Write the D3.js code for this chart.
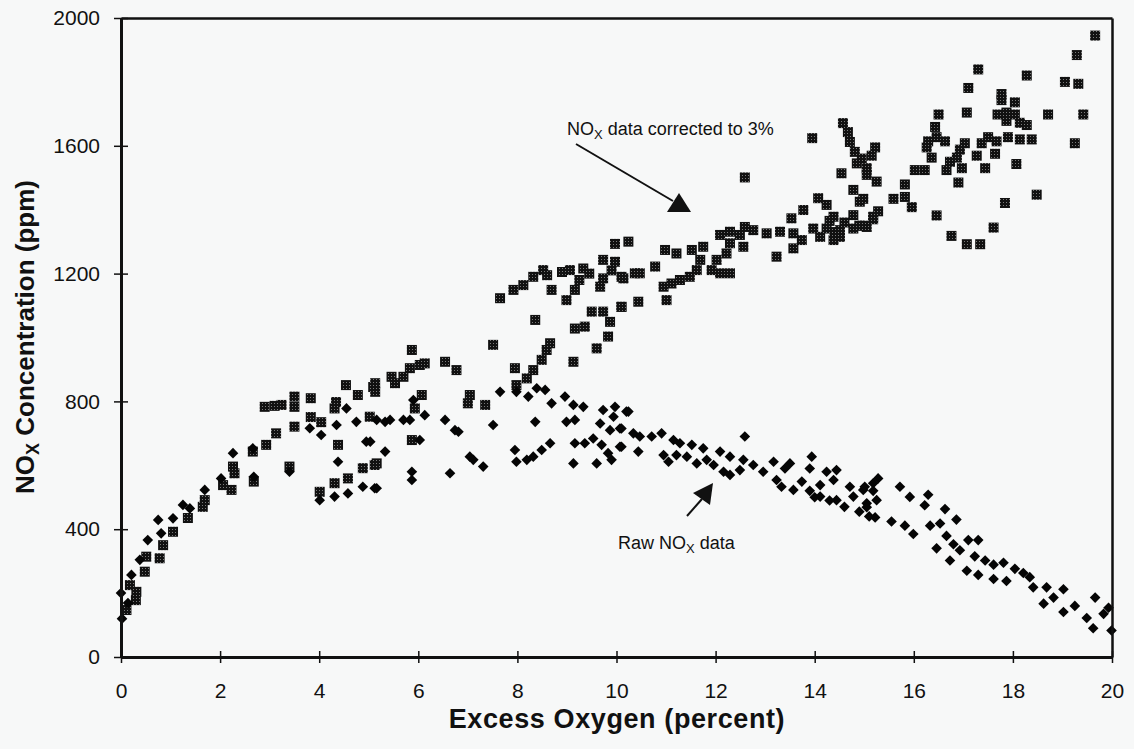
<!DOCTYPE html>
<html><head><meta charset="utf-8">
<script src="https://cdn.jsdelivr.net/npm/d3@7"></script>
<style>
html,body{margin:0;padding:0;background:#f7f8f8;}
svg{display:block;font-family:"Liberation Sans",Arial,Helvetica,sans-serif;}
</style></head>
<body>
<svg id="chart" width="1134" height="749"></svg>
<script>
// ---- data (Excess O2 %, NOx ppm) ----
const xTicks = [0,2,4,6,8,10,12,14,16,18,20];
const yTicks = [0,400,800,1200,1600,2000];

const correctedNOx = [
 [0.11,147],[0.18,225],[0.3,178],[0.31,204],[0.48,267],[0.51,314],[0.78,309],[0.85,350],[1.05,392],[1.35,435],[1.65,470],[1.69,491],
 [2.06,538],[2.23,523],[2.26,596],[2.29,575],[2.66,643],[2.68,549],[2.93,664],[2.9,783],[3.1,786],[3.24,789],[3.13,700],[3.4,596],
 [3.5,815],[3.5,783],[3.5,721],[3.83,810],[3.83,751],[4.04,735],[4.31,778],[4.34,798],[4.54,851],[4.78,820],[5.09,845],[4.01,517],
 [4.31,544],[4.58,559],[4.38,664],[4.88,591],[5.12,601],[5.02,752],
 [9.97,1293],[9.73,1243],[9.97,1237],[9.33,1216],[9.06,1211],[8.52,1211],[8.32,1190],[8.12,1164],[7.92,1149],[7.65,1123],[8.69,1149],
 [8.99,1117],[9.16,1149],[9.67,1159],[9.73,1185],[10.14,1185],[10.1,1096],[9.5,1081],[9.73,1081],[9.87,1049],[9.83,1003],[9.36,1034],
 [9.16,1028],[9.6,966],[8.36,1055],[7.51,977],[8.66,982],[8.59,961],[8.49,930],[8.32,898],[8.19,872],[7.95,904],[7.98,851],[9.13,924],
 [5.87,961],[6.03,914],[6.13,919],[5.83,904],[5.7,877],[5.46,877],[5.53,857],[5.13,857],[5.13,830],[6.54,924],[6.77,898],[7.04,820],
 [7.0,794],[7.35,789],[6.07,820],[5.93,778],[5.87,679],[5.16,606],[8.6,1195],[9.25,1180],[9.45,1200],[9.9,1210],[8.9,1205],
 [12.59,1501],[14.54,1514],[15.05,1509],[14.78,1462],[14.91,1425],[14.07,1436],[14.24,1415],[13.77,1399],[13.53,1373],[14.38,1378],
 [14.78,1383],[15.18,1378],[13.97,1341],[14.24,1341],[14.51,1336],[14.78,1341],[15.05,1346],[14.11,1315],[14.38,1305],[14.51,1315],
 [13.3,1331],[13.57,1326],[13.74,1305],[13.57,1279],[13.23,1253],[13.03,1326],[12.76,1336],[12.59,1346],[12.49,1321],[12.29,1331],
 [12.09,1321],[12.29,1295],[12.56,1284],[12.22,1263],[12.02,1243],[11.75,1284],[11.52,1274],[11.69,1243],[12.09,1201],[12.29,1201],
 [11.92,1211],[11.62,1211],[11.48,1190],[11.28,1180],[11.11,1169],[11.21,1263],[10.98,1274],[10.78,1222],[10.95,1159],[11.01,1117],
 [10.37,1201],[10.47,1201],[10.1,1190],[10.24,1300],[10.44,1112],[10.1,1096],[15.25,1488],
 [13.95,1624],[14.57,1671],[14.67,1643],[14.71,1612],[14.81,1581],[14.85,1545],[14.95,1560],[14.4,1330],[14.6,1360],[14.9,1350],[14.3,1365],
 [19.66,1945],[19.29,1884],[17.3,1839],[17.1,1781],[18.28,1820],[19.05,1800],[19.32,1794],[17.77,1762],[17.77,1743],[18.04,1736],
 [16.5,1698],[17.07,1704],[18.71,1698],[19.42,1698],[17.87,1704],[18.04,1698],[18.14,1672],[18.28,1665],[16.43,1659],[17.69,1698],
 [17.87,1678],[16.46,1627],[16.63,1614],[16.29,1614],[17.9,1627],[18.14,1620],[18.38,1620],[19.25,1608],[17.5,1627],[17.37,1608],
 [17.67,1614],[17.64,1575],[17.27,1569],[17.03,1608],[16.93,1588],[16.87,1563],[16.73,1550],[16.97,1530],[16.9,1485],[16.66,1524],
 [16.26,1595],[16.36,1563],[17.44,1530],[18.07,1543],[16.02,1524],[16.22,1524],[15.82,1479],[15.82,1440],[15.59,1434],[15.96,1408],
 [16.46,1382],[16.76,1318],[17.07,1292],[17.34,1292],[17.61,1344],[17.84,1421],[18.48,1447],[15.22,1595],[15.15,1569],[15.05,1530],
 [14.98,1434],[15.28,1395],[15.18,1370],[14.98,1350]
];

const rawNOx = [
 [0.0,200],[0.02,120],[0.14,169],[0.21,257],[0.38,304],[0.54,366],[0.75,429],[0.81,387],[1.05,434],[1.25,476],[1.39,465],[1.69,523],
 [2.02,559],[2.26,638],[2.66,653],[2.68,564],[3.4,580],[3.81,716],[4.04,695],[4.01,491],[4.31,502],[4.58,512],[4.88,533],[5.12,528],
 [4.38,611],[4.35,726],[4.55,778],[4.75,736],[4.95,674],
 [7.65,830],[7.98,830],[8.22,815],[8.39,841],[8.56,836],[8.69,794],[8.96,815],[9.13,789],[9.33,783],[8.36,736],[7.51,726],[8.99,736],
 [9.16,742],[9.73,773],[9.97,783],[10.2,768],[9.94,752],[9.67,731],[9.87,710],[10.07,715],[9.16,669],[9.36,669],[9.53,684],[9.7,664],
 [9.83,638],[9.9,617],[10.07,658],[9.6,606],[9.13,606],[7.95,648],[7.98,611],[8.19,617],[8.32,627],[8.49,648],[8.66,669],[7.04,627],
 [7.11,617],[7.31,596],[6.64,575],[6.54,742],[6.74,710],[6.81,705],[6.13,757],[5.9,804],[5.83,742],[5.7,742],[5.43,742],[5.33,736],
 [5.16,742],[6.03,679],[5.87,580],[5.87,554],[5.33,643],[5.16,528],[5.03,674],
 [10.24,768],[10.1,715],[10.34,700],[10.47,690],[10.1,658],[10.44,643],[10.71,690],[10.91,700],[11.15,679],[11.28,669],[10.95,632],
 [11.05,611],[11.21,632],[11.52,664],[11.75,653],[11.42,627],[11.62,606],[11.82,617],[12.09,643],[12.29,627],[11.96,601],[12.16,580],
 [12.29,570],[12.56,617],[12.76,601],[12.59,690],[12.49,585],[12.96,580],[13.17,611],[13.23,554],[13.4,590],[13.5,606],[13.33,533],
 [13.57,523],[13.74,549],[13.94,627],[13.9,590],[14.11,538],[14.24,580],[14.44,585],[14.38,554],[14.11,502],[14.44,491],[14.71,533],
 [14.78,502],[14.98,523],[15.18,544],[15.25,491],[15.05,481],[14.9,455],[15.1,440],[14.6,470],[14.3,490],[13.9,520],[14.0,500],
 [15.28,559],[15.18,520],[15.01,533],[15.05,469],[15.22,437],[15.55,424],[15.72,533],[15.92,501],[16.29,508],[16.22,475],[15.82,411],
 [15.99,385],[16.33,411],[16.53,418],[16.63,463],[16.86,430],[16.66,379],[16.8,353],[16.46,340],[16.73,302],[16.93,334],[17.1,366],
 [17.3,366],[17.07,270],[17.3,257],[17.23,315],[17.44,302],[17.61,244],[17.61,289],[17.81,295],[17.87,238],[18.04,276],[18.21,263],
 [18.34,250],[18.41,218],[18.68,218],[18.82,186],[19.02,212],[18.62,167],[19.02,141],[19.25,160],[19.49,122],[19.62,90],[19.66,186],
 [19.83,135],[19.93,154],[19.99,83]
];

// ---- layout ----
const svg = d3.select("#chart");
const x = d3.scaleLinear().domain([0,20]).range([121,1112]);
const y = d3.scaleLinear().domain([0,2000]).range([657,18]);

// dither pattern for squares
const defs = svg.append("defs");
const pat = defs.append("pattern").attr("id","dither").attr("patternUnits","userSpaceOnUse")
  .attr("width",3).attr("height",3);
pat.append("rect").attr("width",3).attr("height",3).attr("fill","#111");
pat.append("rect").attr("x",1).attr("y",1).attr("width",1).attr("height",1).attr("fill","#7a7a7a");

// markers
svg.append("g").selectAll("rect").data(correctedNOx).join("rect")
  .attr("x",d=>x(d[0])-5).attr("y",d=>y(d[1])-5)
  .attr("width",10).attr("height",10).attr("fill","url(#dither)");

const diamond = d3.symbol().type(d3.symbolDiamond2).size(72);
svg.append("g").selectAll("path").data(rawNOx).join("path")
  .attr("d",diamond)
  .attr("transform",d=>`translate(${x(d[0])},${y(d[1])})`)
  .attr("fill","#050505");

// axes
const fontTick = "21px";
const gl = svg.append("g").attr("transform","translate(121,0)")
  .call(d3.axisLeft(y).tickValues(yTicks).tickSize(7).tickSizeOuter(0).tickPadding(14).tickFormat(d3.format("d")));
const gb = svg.append("g").attr("transform","translate(0,657)")
  .call(d3.axisBottom(x).tickValues(xTicks).tickSize(6).tickSizeOuter(0).tickPadding(20).tickFormat(d3.format("d")));
const gt = svg.append("g").attr("transform","translate(0,18)")
  .call(d3.axisTop(x).tickValues([]).tickSizeOuter(0));
const gr = svg.append("g").attr("transform","translate(1112,0)")
  .call(d3.axisRight(y).tickValues([]).tickSizeOuter(0));

[gl,gb,gt,gr].forEach(g=>{
  g.select(".domain").attr("stroke","#111").attr("stroke-width",3);
  g.selectAll(".tick line").attr("stroke","#111").attr("stroke-width",1.5);
  g.selectAll("text").attr("fill","#111").style("font-size",fontTick)
    .style("font-family","'Liberation Sans',Arial,Helvetica,sans-serif");
});
gt.select(".domain").attr("stroke-width",2.5);
gr.select(".domain").attr("stroke-width",2.5);
gl.selectAll(".tick line").attr("x1",7);
gb.selectAll(".tick line").attr("y1",-6);

// axis titles
const yt = svg.append("text")
  .attr("transform","translate(34,337) rotate(-90)")
  .attr("text-anchor","middle").attr("font-weight","bold").attr("font-size",26).attr("fill","#111");
yt.append("tspan").text("NO");
yt.append("tspan").attr("font-size",18).attr("dy",5).text("X");
yt.append("tspan").attr("dy",-5).text(" Concentration (ppm)");

svg.append("text").attr("x",617).attr("y",728)
  .attr("text-anchor","middle").attr("font-weight","bold").attr("font-size",27).attr("fill","#111")
  .attr("letter-spacing",0.6)
  .text("Excess Oxygen (percent)");

// annotations
const a1 = svg.append("text").attr("x",567).attr("y",135).attr("font-size",18).attr("fill","#111");
a1.append("tspan").text("NO");
a1.append("tspan").attr("font-size",13).attr("dy",4).text("X");
a1.append("tspan").attr("dy",-4).text(" data corrected to 3%");
svg.append("line").attr("x1",576).attr("y1",144).attr("x2",673).attr("y2",201)
  .attr("stroke","#111").attr("stroke-width",2);
svg.append("path").attr("d","M679,193 L667,212 L691,212 Z").attr("fill","#111");

const a2 = svg.append("text").attr("x",618).attr("y",549).attr("font-size",18).attr("fill","#111");
a2.append("tspan").text("Raw NO");
a2.append("tspan").attr("font-size",13).attr("dy",4).text("X");
a2.append("tspan").attr("dy",-4).text(" data");
svg.append("line").attr("x1",687).attr("y1",516).attr("x2",702).attr("y2",499)
  .attr("stroke","#111").attr("stroke-width",2);
svg.append("path").attr("d","M713,483 L693,493 L710,505 Z").attr("fill","#111");
</script>
</body></html>
